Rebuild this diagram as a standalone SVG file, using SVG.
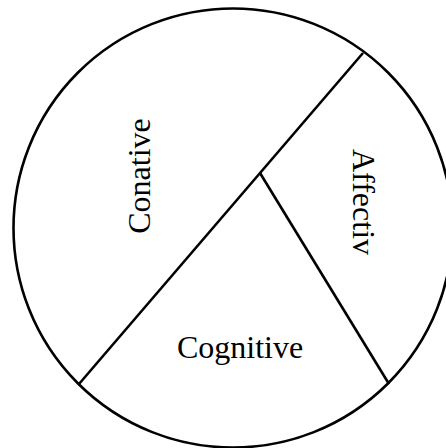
<svg xmlns="http://www.w3.org/2000/svg" width="446" height="448" viewBox="0 0 446 448">
<style>
.ln{fill:none;stroke:#000;stroke-width:2.6}
.lb{font-family:"Liberation Serif","Times New Roman",serif;font-size:32px;fill:#000}
</style>
<rect width="446" height="448" fill="#fff"/>
<g id="circle"><circle class="ln" cx="233" cy="228" r="219.5"/></g>
<g id="connectors">
<line class="ln" x1="79" y1="384" x2="363" y2="53"/>
<line class="ln" x1="260" y1="173" x2="389" y2="384"/>
</g>
<g id="conative"><text class="lb" transform="translate(150,176) rotate(-90)" text-anchor="middle" font-size="31">Conative</text></g>
<g id="affectiv"><text class="lb" transform="translate(353,202) rotate(90)" text-anchor="middle">Affectiv</text></g>
<g id="cognitive"><text class="lb" x="240" y="358" text-anchor="middle">Cognitive</text></g>
</svg>
